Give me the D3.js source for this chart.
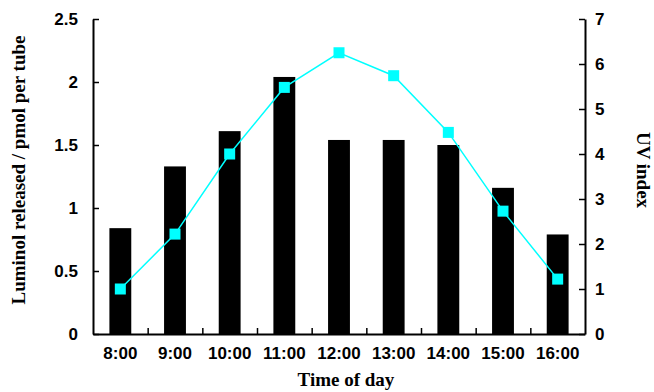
<!DOCTYPE html>
<html>
<head>
<meta charset="utf-8">
<script src="https://cdn.jsdelivr.net/npm/d3@7"></script>
<style>
  body { margin: 0; background: #fff; }
  .tick text { font-family: "Liberation Sans", Arial, sans-serif; font-weight: bold; font-size: 17px; fill: #000; }
  .title { font-family: "Liberation Serif", "Times New Roman", serif; font-weight: bold; font-size: 19px; fill: #000; }
</style>
</head>
<body>
<div id="chart"></div>
<script>
// datos
const horas = ["8:00", "9:00", "10:00", "11:00", "12:00", "13:00", "14:00", "15:00", "16:00"];
const luminol = [0.84, 1.33, 1.61, 2.04, 1.54, 1.54, 1.50, 1.16, 0.79];
const uvIndex = [1.0, 2.22, 4.0, 5.48, 6.25, 5.74, 4.48, 2.73, 1.22];
const ticksIzq = [0, 0.5, 1, 1.5, 2, 2.5];
const ticksDer = [0, 1, 2, 3, 4, 5, 6, 7];

var margin = { top: 19, right: 69, bottom: 58, left: 93 },
    width = 654 - margin.left - margin.right,
    height = 392 - margin.top - margin.bottom;

var svg = d3.select("#chart")
    .append("svg")
    .attr("width", 654)
    .attr("height", 392)
    .append("g")
    .attr("transform", "translate(" + margin.left + "," + margin.top + ")");

// escalas
var x = d3.scaleBand().domain(horas).range([0, width]).paddingInner(0.6).paddingOuter(0.3);
var xLim = d3.scaleLinear().domain([0, horas.length]).range([0, width]); // bordes de categorias
var y = d3.scaleLinear().domain([0, 2.5]).range([height, 0]);
var y2 = d3.scaleLinear().domain([0, 7]).range([height, 0]);

// barras
svg.selectAll(".bar")
    .data(luminol)
    .enter()
    .append("rect")
    .attr("class", "bar")
    .attr("x", (d, i) => x(horas[i]))
    .attr("width", x.bandwidth())
    .attr("y", d => y(d))
    .attr("height", d => height - y(d))
    .style("fill", "#000");

// linea UV
var linea = d3.line()
    .x((d, i) => x(horas[i]) + x.bandwidth() / 2)
    .y(d => y2(d));

svg.append("path")
    .datum(uvIndex)
    .attr("d", linea)
    .attr("fill", "none")
    .attr("stroke", "#00ffff")
    .attr("stroke-width", 1.5);

svg.selectAll(".marca")
    .data(uvIndex)
    .enter()
    .append("rect")
    .attr("class", "marca")
    .attr("x", (d, i) => x(horas[i]) + x.bandwidth() / 2 - 5.5)
    .attr("y", d => y2(d) - 5.5)
    .attr("width", 11)
    .attr("height", 11)
    .style("fill", "#00ffff");

// ejes
var ejeIzq = svg.append("g")
    .call(d3.axisLeft(y).tickValues(ticksIzq).tickFormat(d3.format("")).tickSizeInner(-6).tickSizeOuter(0).tickPadding(15));

var ejeDer = svg.append("g")
    .attr("transform", "translate(" + width + ",0)")
    .call(d3.axisRight(y2).tickValues(ticksDer).tickFormat(d3.format("d")).tickSizeInner(-6).tickSizeOuter(0).tickPadding(10));

var ejeX = svg.append("g")
    .attr("transform", "translate(0," + height + ")")
    .call(d3.axisBottom(x).tickSize(0).tickPadding(13));
ejeX.select(".domain").remove();

var ejeXLim = svg.append("g")
    .attr("transform", "translate(0," + height + ")")
    .call(d3.axisBottom(xLim).tickValues(d3.range(1, horas.length)).tickFormat("").tickSizeInner(-6).tickSizeOuter(0));

svg.selectAll(".domain").attr("stroke", "#000").attr("stroke-width", 2);
svg.selectAll(".tick line").attr("stroke", "#000").attr("stroke-width", 1.5);

// titulos
svg.append("text")
    .attr("class", "title")
    .attr("transform", "translate(" + (25 - margin.left) + "," + (170 - margin.top) + ") rotate(-90)")
    .style("text-anchor", "middle")
    .text("Luminol released / pmol per tube");

svg.append("text")
    .attr("class", "title")
    .attr("transform", "translate(" + (637 - margin.left) + "," + (170 - margin.top) + ") rotate(90)")
    .style("text-anchor", "middle")
    .text("UV index");

svg.append("text")
    .attr("class", "title")
    .attr("x", 346 - margin.left)
    .attr("y", 386 - margin.top)
    .style("text-anchor", "middle")
    .text("Time of day");
</script>
</body>
</html>
